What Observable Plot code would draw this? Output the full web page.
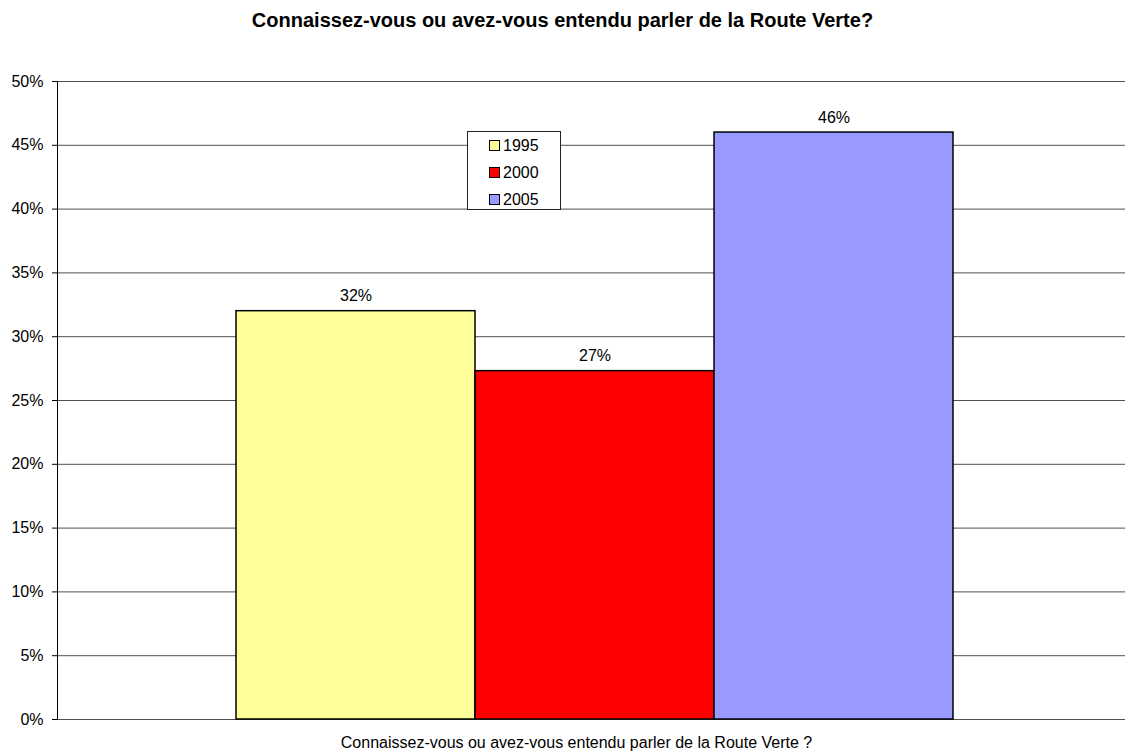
<!DOCTYPE html>
<html>
<head>
<meta charset="utf-8">
<script src="https://cdn.jsdelivr.net/npm/d3@7"></script>
<script src="https://cdn.jsdelivr.net/npm/@observablehq/plot@0.6"></script>
<style>
  html, body { margin: 0; padding: 0; background: #fff; }
  #wrap { position: relative; width: 1125px; height: 754px; overflow: hidden; font-family: "Liberation Sans", Arial, sans-serif; }
  #title { height: 40px; box-sizing: border-box; padding-top: 10px; line-height: 20px; font-size: 20px; font-weight: bold; text-align: center; color: #000; }
  #legend { position: absolute; left: 467px; top: 131px; width: 94px; height: 79px; box-sizing: border-box; border: 1px solid #222; background: #fff; font-size: 16px; }
  .item { position: absolute; left: 21px; height: 18px; line-height: 18px; white-space: nowrap; }
  .sw { display: inline-block; width: 9px; height: 9px; border: 1px solid #000; margin-right: 3px; vertical-align: 0px; }
  svg { display: block; }
</style>
</head>
<body>
<div id="wrap">
  <div id="title">Connaissez-vous ou avez-vous entendu parler de la Route Verte?</div>
  <div id="chart"></div>
  <div id="legend"></div>
</div>
<script>
const question = "Connaissez-vous ou avez-vous entendu parler de la Route Verte ?";
const years = ["1995", "2000", "2005"];
const shares = [0.32, 0.273, 0.46];
const colors = ["#FFFF99", "#FF0000", "#9999FF"];
const yTicks = [0, 0.05, 0.10, 0.15, 0.20, 0.25, 0.30, 0.35, 0.40, 0.45, 0.50];

const data = years.map((year, i) => ({year, share: shares[i]}));
const pct = d3.format(".0%");

const chart = Plot.plot({
  width: 1125,
  height: 714,
  marginTop: 41,
  marginBottom: 35,
  marginLeft: 57,
  marginRight: 0,
  style: {fontFamily: "'Liberation Sans', Arial, sans-serif", fontSize: "16px", color: "#000", background: "#fff", overflow: "visible"},
  x: {domain: years, paddingInner: 0, paddingOuter: 0.733, align: 0.51, axis: null},
  y: {domain: [0, 0.5], axis: null},
  color: {domain: years, range: colors},
  marks: [
    Plot.gridY(yTicks, {stroke: "#505050", strokeOpacity: 1, strokeWidth: 1}),
    Plot.axisY(yTicks, {tickSize: 5, tickPadding: 9, tickFormat: pct, label: null, stroke: "#000", fontSize: 16}),
    Plot.frame({anchor: "left", stroke: "#000"}),
    Plot.barY(data, {x: "year", y: "share", fill: "year", stroke: "#000", strokeWidth: 1.5}),
    Plot.text(data, {x: "year", y: "share", text: d => pct(d.share), dy: -15, fontSize: 16, fill: "#000"}),
    Plot.text([question], {frameAnchor: "bottom", dy: 28, dx: -15, fontSize: 16, fill: "#000"})
  ]
});
document.getElementById("chart").appendChild(chart);

const legend = document.getElementById("legend");
years.forEach((y, i) => {
  const it = document.createElement("div");
  it.className = "item";
  it.style.top = (5 + i * 27) + "px";
  const sw = document.createElement("span");
  sw.className = "sw";
  sw.style.background = colors[i];
  it.appendChild(sw);
  it.appendChild(document.createTextNode(y));
  legend.appendChild(it);
});
</script>
</body>
</html>
